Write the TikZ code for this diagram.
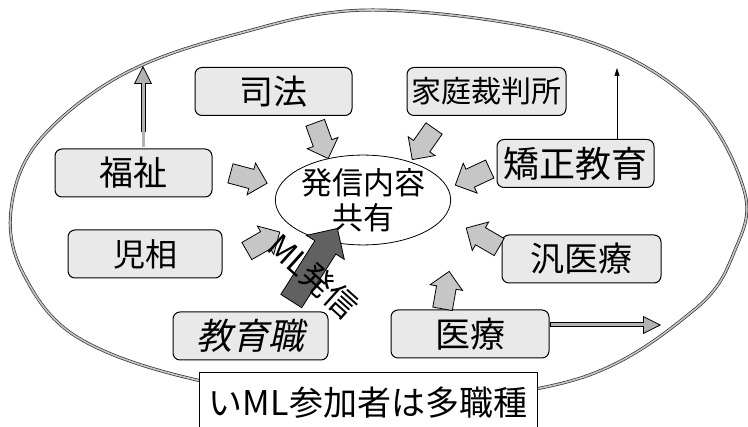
\documentclass[tikz,border=0pt]{standalone}
\usepackage{fontspec}
\setmainfont{Noto Sans CJK JP}
\newfontfamily\jpit[FakeSlant=0.22]{Noto Sans CJK JP}
\usetikzlibrary{shapes.geometric,shapes.arrows,arrows.meta}
\begin{document}
\begin{tikzpicture}[x=1pt,y=-1pt,
  outerring/.style={draw=black!80, double=gray!45, double distance=1.6pt, line width=0.7pt},
  box/.style={draw=black, line width=1pt, rounded corners=7pt, fill=gray!17, inner sep=0pt,
              minimum height=48pt, font=\fontsize{34}{36}\selectfont},
  blk/.style={single arrow, draw=black, line width=0.8pt, fill=gray!45, inner xsep=0pt, inner ysep=9.5pt,
              minimum height=38pt, single arrow head extend=6.5pt},
  bigblk/.style={single arrow, draw=black, line width=0.8pt, fill=black!62, inner xsep=0pt, inner ysep=12pt,
              minimum height=86pt, single arrow head extend=10pt},
  fatarrow/.style={line width=5pt, draw=black,
              -{Triangle[length=18pt,width=18pt,fill=gray!60,line width=0.8pt]},
              postaction={draw=gray!60, line width=3pt, -, shorten >=17pt, shorten <=1pt}},
  thinarrow/.style={line width=0.7pt, draw=black, -{Triangle[length=8pt,width=5pt]}}
]
\useasboundingbox (0,0) rectangle (748,427);

% outer ring
\draw[outerring] plot[smooth cycle, tension=0.6] coordinates {
  (374,10) (574,37) (691,100) (744,190) (735,250) (694,310) (574,380)
  (370,404) (197,380) (77,337) (23,273) (11,210) (38,142) (120,76) (233,35)};

% boxes
\node[box, minimum width=157pt] (shiho)  at (273.5,91.5) {司法};
\node[box, minimum width=159pt, font=\fontsize{30}{32}\selectfont] (katei) at (486.5,91.5) {家庭裁判所};
\node[box, minimum width=157pt] (fukushi) at (133.5,173) {福祉};
\node[box, minimum width=157pt, font=\fontsize{36}{38}\selectfont] (kyosei) at (575.5,163.5) {矯正教育};
\node[box, minimum width=154pt, font=\fontsize{32}{34}\selectfont] (jiso) at (145,254) {児相};
\node[box, minimum width=159pt] (hanIryo) at (581.5,259) {汎医療};
\node[box, minimum width=155pt, font=\fontsize{36}{38}\selectfont\jpit] (kyoiku) at (250.5,336) {教育職};
\node[box, minimum width=158pt, font=\fontsize{35}{37}\selectfont] (iryo) at (470,334) {医療};

% centre
\node[ellipse, draw=black, line width=0.8pt, fill=white, minimum width=170pt, minimum height=76pt,
      inner sep=0pt, align=center, font=\fontsize{31}{35}\selectfont] (share) at (363,200) {発信内容\\共有};

% big ML arrow
\node[bigblk, rotate=57.6] (aML) at (311,270) {};

% small block arrows
\node[blk, rotate=-70]  (aShiho)  at (320,136) {};
\node[blk, rotate=-125] (aKatei)  at (426,140) {};
\node[blk, rotate=-15]  (aFuku)   at (244,177) {};
\node[blk, rotate=205]  (aKyo)    at (477,175) {};
\node[blk, rotate=150]  (aHan)    at (487,240) {};
\node[blk, rotate=80]   (aIryo)   at (445,295) {};
\node[blk, rotate=30]   (aJiso)   at (259,244) {};

% ML text
\node[rotate=-42, font=\fontsize{32}{34}\selectfont, inner sep=0pt] (mlText) at (313,276) {ML発信};

% long arrows
\coordinate (upEnd) at (143,66);
\draw[fatarrow, shorten <=16pt] (fukushi.north -| upEnd) -- (upEnd);
\coordinate (thinEnd) at (617,68);
\draw[thinarrow] (kyosei.north -| thinEnd) -- (thinEnd);
\coordinate (rightEnd) at (661,325);
\draw[fatarrow] (iryo.east |- rightEnd) -- (rightEnd);

% bottom box
\node[draw=black, line width=1pt, fill=white, minimum width=338pt, minimum height=60pt, inner sep=0pt,
      font=\fontsize{34}{36}\selectfont] (sanka) at (368,403) {いML参加者は多職種};
\end{tikzpicture}
\end{document}
